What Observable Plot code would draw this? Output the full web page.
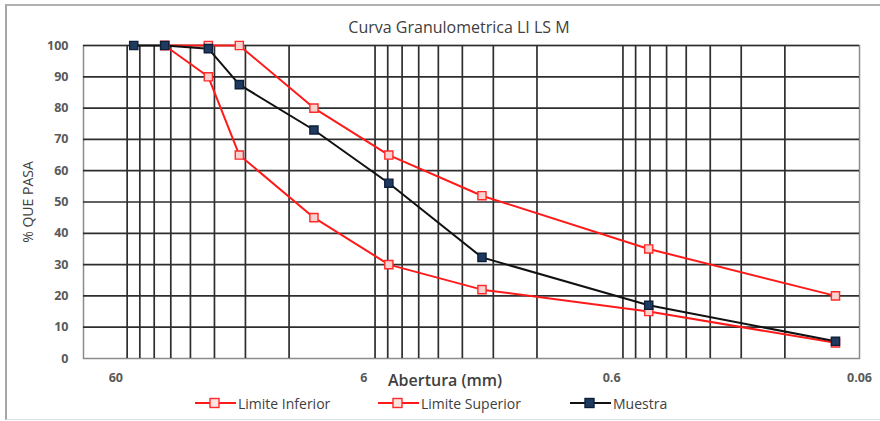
<!DOCTYPE html>
<html>
<head>
<meta charset="utf-8">
<script src="https://cdn.jsdelivr.net/npm/d3@7"></script>
<script src="https://cdn.jsdelivr.net/npm/@observablehq/plot@0.6"></script>
<style>
  body { margin: 0; background: #fff; }
  #wrap { position: relative; width: 880px; height: 421px; overflow: hidden; font-family: "Open Sans", sans-serif; color: #404040; }
  #frame { position: absolute; left: 5px; top: 4px; width: 890px; height: 413px; border-left: 2px solid #a6a6a6; border-top: 2px solid #b0b0b0; border-bottom: 1px solid #dcdcdc; }
  #title { position: absolute; top: 16px; left: 0; width: 918px; text-align: center; font-size: 16px; color: #404040; }
  #chart { position: absolute; left: 0; top: 0; }
  #xlabel { position: absolute; left: 388px; top: 369px; font-size: 16px; font-weight: 600; color: #404040; white-space: nowrap; }
  .leg { position: absolute; top: 395px; height: 16px; display: flex; align-items: center; font-size: 14px; color: #404040; white-space: nowrap; }
  .leg svg { margin-right: 2px; }
  #chart svg g[aria-label="y-axis tick label"] text { font-weight: bold; fill: #595959; }
  #chart svg g[aria-label="y-axis label"] text { fill: #404040; font-size: 14px; }
</style>
</head>
<body>
<div id="wrap">
  <div id="frame"></div>
  <div id="title"></div>
  <div id="chart"></div>
  <div id="xlabel"></div>
</div>
<script>
// ---- Data ----
const title = "Curva Granulometrica LI LS M";
const xLabel = "Abertura (mm)";
const yLabel = "% QUE PASA";
const seriesNames = ["Limite Inferior", "Limite Superior", "Muestra"];
const sieveSizes = [50.8, 38.1, 25.4, 19.05, 9.525, 4.75, 2.0, 0.425, 0.075];
const limiteInferior = [null, 100, 90, 65, 45, 30, 22, 15, 5];
const limiteSuperior = [null, 100, 100, 100, 80, 65, 52, 35, 20];
const muestra = [100, 100, 99, 87.5, 73, 56, 32.3, 17, 5.5];
const xTicks = [60, 6, 0.6, 0.06];
const xTickLabels = ["60", "6", "0.6", "0.06"];
const yTicks = [0, 10, 20, 30, 40, 50, 60, 70, 80, 90, 100];
const yGrid = [10, 20, 30, 40, 50, 60, 70, 80, 90, 100];
const xGrid = [54, 48, 42, 36, 30, 24, 18, 12,
               5.4, 4.8, 4.2, 3.6, 3.0, 2.4, 1.8, 1.2,
               0.54, 0.48, 0.42, 0.36, 0.30, 0.24, 0.18, 0.12];

// ---- Styles ----
const styles = {
  "Limite Inferior": {stroke: "#ff1a1a", fill: "#f7d3d0", mstroke: "#ff2a2a"},
  "Limite Superior": {stroke: "#ff1a1a", fill: "#f7d3d0", mstroke: "#ff2a2a"},
  "Muestra": {stroke: "#111111", fill: "#1f3a60", mstroke: "#0f1f38"}
};
const seriesValues = [limiteInferior, limiteSuperior, muestra];

function rows(i) {
  const vals = seriesValues[i];
  return sieveSizes.map((s, j) => ({size: s, pct: vals[j], serie: seriesNames[i]}))
                   .filter(d => d.pct != null);
}

document.getElementById("title").textContent = title;
document.getElementById("xlabel").textContent = xLabel;

const xTickData = xTicks.map((v, i) => ({v, label: xTickLabels[i]}));

const marks = [
  Plot.frame({stroke: "#8c8c8c", strokeWidth: 1.5}),
  Plot.ruleY(yGrid, {stroke: "#2e2e2e", strokeWidth: 1.7}),
  Plot.ruleX(xGrid, {stroke: "#2e2e2e", strokeWidth: 1.7}),
];
seriesNames.forEach((name, i) => {
  const st = styles[name];
  marks.push(Plot.line(rows(i), {x: "size", y: "pct", stroke: st.stroke, strokeWidth: 2}));
});
seriesNames.forEach((name, i) => {
  const st = styles[name];
  marks.push(Plot.dot(rows(i), {x: "size", y: "pct", symbol: "square", r: 4.6,
    fill: st.fill, stroke: st.mstroke, strokeWidth: 1.4}));
});
marks.push(Plot.text(xTickData, {x: "v", text: "label", frameAnchor: "bottom", dy: 23,
  fontSize: 12.5, fontWeight: "bold", fill: "#595959"}));
marks.push(Plot.axisY({ticks: yTicks, tickSize: 0, tickPadding: 15, label: yLabel,
  labelAnchor: "center", labelOffset: 60, labelArrow: false, fontSize: 12.5}));

const chart = Plot.plot({
  width: 880,
  height: 395,
  marginTop: 45,
  marginBottom: 37,
  marginLeft: 83,
  marginRight: 21,
  style: {fontFamily: "Open Sans, sans-serif", fontSize: "12.5px", color: "#404040", background: "transparent", overflow: "visible"},
  x: {type: "log", domain: [81, 0.06], axis: null},
  y: {domain: [0, 100]},
  marks
});
document.getElementById("chart").appendChild(chart);

// ---- Legend ----
const legendX = [195, 378, 570];
seriesNames.forEach((name, i) => {
  const st = styles[name];
  const div = document.createElement("div");
  div.className = "leg";
  div.style.left = legendX[i] + "px";
  div.innerHTML = `<svg width="41" height="14"><line x1="0" y1="7" x2="41" y2="7" stroke="${st.stroke}" stroke-width="2.2"/>` +
    `<rect x="15" y="2.5" width="9" height="9" fill="${i < 2 ? '#fbe3e1' : st.fill}" stroke="${st.mstroke}" stroke-width="1.4"/></svg>` +
    `<span>${name}</span>`;
  document.getElementById("wrap").appendChild(div);
});
</script>
</body>
</html>
